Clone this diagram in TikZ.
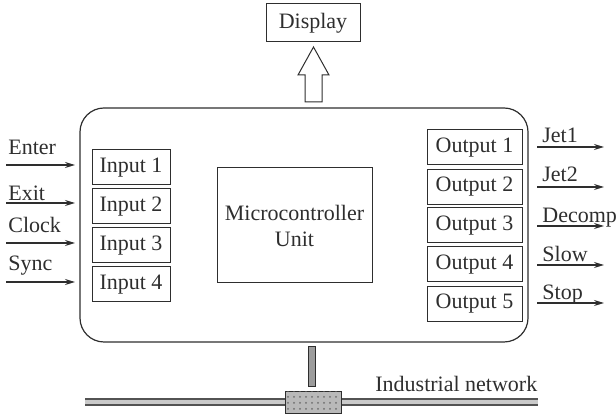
\documentclass[tikz,border=0pt]{standalone}
\usepackage{fontspec}
\setmainfont{Liberation Serif}
\usepackage{xcolor}
\usetikzlibrary{arrows.meta,positioning,patterns}
\definecolor{cInk}{HTML}{2E2E2E}
\definecolor{cNet}{HTML}{8A8A8A}
\tikzset{
  blk/.style={draw=cInk,line width=0.5pt,align=center,font=\fontsize{11}{13}\selectfont,text=cInk,inner sep=2pt},
  inbox/.style={blk,minimum width=39pt,minimum height=17.5pt},
  outbox/.style={blk,minimum width=47.5pt,minimum height=17.5pt},
  sig/.style={-{Stealth[length=5pt,width=3pt]},line width=0.6pt,color=cInk},
  lbl/.style={font=\fontsize{11}{13}\selectfont,text=cInk,inner sep=0pt,anchor=base west},
}

\begin{document}
\begin{tikzpicture}[x=0.5pt,y=-0.5pt]
    \useasboundingbox (0,0) rectangle (616,415);
    % main unit
    \draw[draw=cInk,line width=0.6pt,rounded corners=12pt] (80,108) rectangle (528,342);
    \node[blk,minimum width=77.5pt,minimum height=57.5pt] (mcu) at (294.5,225.5) {Microcontroller\\Unit};
    % display and hollow arrow
    \node[blk,minimum width=47pt,minimum height=19pt] (disp) at (313,23) {Display};
    \draw[draw=cInk,line width=0.5pt,fill=white] (305,102) -- (305,75) -- (298,75) -- (313.5,47)
      -- (329,75) -- (322,75) -- (322,102) -- cycle;
    % inputs
    \node[inbox] (in1) at (131,167.5) {Input 1};
    \node[inbox] (in2) at (131,206.5) {Input 2};
    \node[inbox] (in3) at (131,245.5) {Input 3};
    \node[inbox] (in4) at (131,284.5) {Input 4};
    % outputs
    \node[outbox] (out1) at (474.5,147.5) {Output 1};
    \node[outbox] (out2) at (474.5,187) {Output 2};
    \node[outbox] (out3) at (474.5,225.5) {Output 3};
    \node[outbox] (out4) at (474.5,264.5) {Output 4};
    \node[outbox] (out5) at (474.5,304) {Output 5};
    % input signals
    \node[lbl] (lEnter) at (8,155) {Enter};
    \node[lbl] (lExit) at (8,201) {Exit};
    \node[lbl] (lClock) at (8,233) {Clock};
    \node[lbl] (lSync) at (8,271) {Sync};
    \coordinate (sEnter) at (6,165);  \coordinate (eEnter) at (75,165);
    \coordinate (sExit) at (6,203);   \coordinate (eExit) at (75,203);
    \coordinate (sClock) at (6,243);  \coordinate (eClock) at (75,243);
    \coordinate (sSync) at (6,282);   \coordinate (eSync) at (75,282);
    \draw[sig] (sEnter) -- (eEnter);
    \draw[sig] (sExit) -- (eExit);
    \draw[sig] (sClock) -- (eClock);
    \draw[sig] (sSync) -- (eSync);
    % output signals
    \node[lbl] (lJet1) at (542,143) {Jet1};
    \node[lbl] (lJet2) at (542,182) {Jet2};
    \node[lbl] (lDecomp) at (542,223) {Decomp};
    \node[lbl] (lSlow) at (542,262) {Slow};
    \node[lbl] (lStop) at (542,300) {Stop};
    \coordinate (sJet1) at (537,147);   \coordinate (eJet1) at (604,147);
    \coordinate (sJet2) at (537,187);   \coordinate (eJet2) at (604,187);
    \coordinate (sDecomp) at (537,226); \coordinate (eDecomp) at (604,226);
    \coordinate (sSlow) at (537,265);   \coordinate (eSlow) at (604,265);
    \coordinate (sStop) at (537,303);   \coordinate (eStop) at (604,303);
    \draw[sig] (sJet1) -- (eJet1);
    \draw[sig] (sJet2) -- (eJet2);
    \draw[sig] (sDecomp) -- (eDecomp);
    \draw[sig] (sSlow) -- (eSlow);
    \draw[sig] (sStop) -- (eStop);
    % industrial network
    \draw[draw=cNet!60!black,line width=1.1pt,double=cNet!45,double distance=1.8pt] (85,402) -- (538,402);
    \draw[draw=cInk,line width=0.5pt,fill=cNet!85] (308,347) rectangle (315,387);
    \draw[draw=cInk,line width=0.5pt,fill=cNet!60] (285,392) rectangle (341,414);
    \fill[pattern=dots,pattern color=cInk!70] (285,392) rectangle (341,414);
    \node[lbl] (lNet) at (375,392) {Industrial network};
\end{tikzpicture}
\end{document}
